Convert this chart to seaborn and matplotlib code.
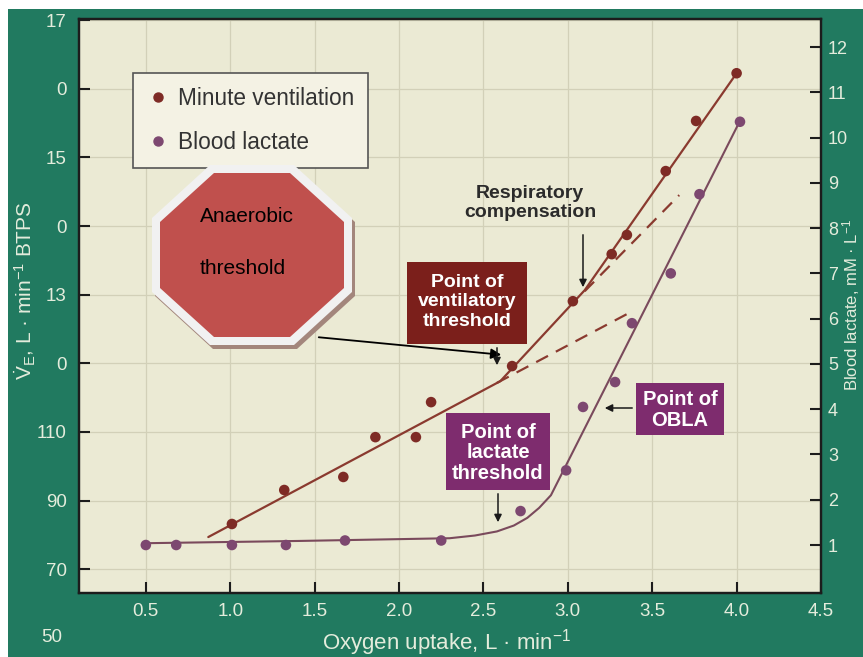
import matplotlib
matplotlib.use("Agg")
import matplotlib.pyplot as plt
from matplotlib.lines import Line2D
from matplotlib.patches import Polygon, Rectangle
import seaborn as sns

# ---- data -------------------------------------------------------------
# Minute ventilation (L/min) against oxygen uptake (L/min)
vo2_ve = [1.01, 1.32, 1.67, 1.86, 2.10, 2.19, 2.67, 3.03, 3.26, 3.35, 3.58, 3.76, 4.00]
ve = [83.2, 93.1, 96.9, 108.5, 108.5, 118.7, 129.2, 148.1, 161.8, 167.4, 186.0, 200.6, 214.5]

# Blood lactate (mM) against oxygen uptake (L/min)
vo2_la = [0.50, 0.68, 1.01, 1.33, 1.68, 2.25, 2.72, 2.99, 3.09, 3.28, 3.38, 3.61, 3.78, 4.02]
lactate = [1.0, 1.0, 1.0, 1.0, 1.1, 1.1, 1.75, 2.65, 4.05, 4.6, 5.9, 7.0, 8.75, 10.35]

# Fitted trend lines
ve_fit_x = [0.87, 2.60, 3.10, 4.00]
ve_fit = [79.4, 124.8, 151.3, 214.5]
ve_ext1_x = [2.58, 3.36]          # extrapolation of the first slope
ve_ext1 = [124.3, 144.6]
ve_ext2_x = [3.10, 3.66]          # extrapolation of the second slope
ve_ext2 = [151.0, 179.0]

la_fit_x = [0.50, 1.41, 2.30, 2.45, 2.58, 2.68, 2.76, 2.83, 2.90, 4.02]
la_fit = [1.04, 1.09, 1.15, 1.21, 1.30, 1.43, 1.60, 1.82, 2.10, 10.37]

# Axis ticks
x_ticks = [0.5, 1.0, 1.5, 2.0, 2.5, 3.0, 3.5, 4.0, 4.5]
x_labels = ["0.5", "1.0", "1.5", "2.0", "2.5", "3.0", "3.5", "4.0", "4.5"]
ve_ticks = [70, 90, 110, 130, 150, 170, 190, 210, 230]
ve_labels = ["70", "90", "110", "0", "13", "0", "15", "0", "17"]
la_ticks = list(range(1, 13))

# ---- style ------------------------------------------------------------
sns.set_style("ticks")
plt.rcParams["font.family"] = ["Liberation Sans", "DejaVu Sans"]
plt.rcParams["mathtext.fontset"] = "custom"
plt.rcParams["mathtext.rm"] = "Liberation Sans"
plt.rcParams["mathtext.it"] = "Liberation Sans"

TEAL = "#217a60"
PAPER = "#ebead4"
TXT_LIGHT = "#e4ecdc"
VE_COL = "#7e2b25"
LA_COL = "#7d4870"
VE_LINE = "#8a3a2f"
LA_LINE = "#7a4a5c"

W, H = 863, 657
fig = plt.figure(figsize=(W / 100, H / 100), dpi=100, facecolor=TEAL)

# white strip along the top and left
fig.patches.append(Rectangle((0, 1 - 9 / H), 1, 9 / H, transform=fig.transFigure,
                             facecolor="white", edgecolor="none", zorder=0))
fig.patches.append(Rectangle((0, 0), 8 / W, 1, transform=fig.transFigure,
                             facecolor="white", edgecolor="none", zorder=0))

ax = fig.add_axes([79 / W, 1 - 593 / H, (821 - 79) / W, (593 - 19) / H])
ax.set_facecolor(PAPER)
ax2 = ax.twinx()

# ---- marks ------------------------------------------------------------
sns.lineplot(x=ve_fit_x, y=ve_fit, ax=ax, color=VE_LINE, lw=1.6, sort=False, estimator=None)
sns.lineplot(x=ve_ext1_x, y=ve_ext1, ax=ax, color=VE_LINE, lw=1.6, sort=False,
             estimator=None, linestyle=(0, (6, 4)))
sns.lineplot(x=ve_ext2_x, y=ve_ext2, ax=ax, color=VE_LINE, lw=1.6, sort=False,
             estimator=None, linestyle=(0, (6, 4)))
sns.scatterplot(x=vo2_ve, y=ve, ax=ax, color=VE_COL, s=58, edgecolor="none", zorder=4)

sns.lineplot(x=la_fit_x, y=la_fit, ax=ax2, color=LA_LINE, lw=1.5, sort=False, estimator=None)
sns.scatterplot(x=vo2_la, y=lactate, ax=ax2, color=LA_COL, s=58, edgecolor="none", zorder=4)

# ---- axes -------------------------------------------------------------
ax.set_xlim(0.104, 4.5)
ax.set_ylim(63.1, 230.3)
ax2.set_ylim(-0.06, 12.62)

ax.set_xticks(x_ticks, x_labels)
ax.set_yticks(ve_ticks, ve_labels)
ax2.set_yticks(la_ticks, [str(t) for t in la_ticks])

ax.grid(True, color="#d2d0b8", lw=0.9)
ax2.grid(False)

for a in (ax, ax2):
    for sp in a.spines.values():
        sp.set_color("#1c1c1c")
        sp.set_linewidth(1.6)
    a.set_xlabel("")
    a.set_ylabel("")
    if a.get_legend() is not None:
        a.get_legend().remove()

ax.tick_params(axis="x", direction="in", length=8, width=1.5, color="#1c1c1c",
               labelcolor=TXT_LIGHT, labelsize=13.5, pad=7)
ax.tick_params(axis="y", direction="in", length=8, width=1.5, color="#1c1c1c",
               labelcolor=TXT_LIGHT, labelsize=13.5, pad=9)
ax2.tick_params(axis="y", direction="in", length=8, width=1.5, color="#1c1c1c",
                labelcolor=TXT_LIGHT, labelsize=13, pad=5)

# lowest left label sits below the frame
ax.text(-17 / 742, 50, "50", transform=ax.get_yaxis_transform(), ha="right",
        va="center", color=TXT_LIGHT, fontsize=13.5, clip_on=False)

ax.set_xlabel("Oxygen uptake, L · min$^{-1}$", color=TXT_LIGHT, fontsize=16, va="center")
ax.xaxis.set_label_coords((447 - 79) / 742, -(643 - 593) / 574)

# ---- legend -----------------------------------------------------------
handles = [Line2D([], [], ls="none", marker="o", ms=6.5, color=VE_COL),
           Line2D([], [], ls="none", marker="o", ms=6.5, color=LA_COL)]
leg = ax2.legend(handles, ["Minute ventilation", "Blood lactate"],
                 loc="upper left", bbox_to_anchor=(133 / W, 1 - 73 / H),
                 bbox_transform=fig.transFigure, borderaxespad=0, frameon=True,
                 fancybox=False, fontsize=16.3, labelspacing=0.95, borderpad=0.6,
                 handlelength=1.0, handletextpad=0.4, labelcolor="#333333")
leg.get_frame().set_facecolor("#f4f2e4")
leg.get_frame().set_edgecolor("#555555")
leg.get_frame().set_linewidth(1.2)
leg.get_frame().set_alpha(1)

# ---- overlay for labels and callouts (pixel coordinates) ---------------
ov = fig.add_axes([0, 0, 1, 1], zorder=10)
ov.set_xlim(0, W)
ov.set_ylim(H, 0)
ov.axis("off")

ov.text(25, 291, r"$\dot{\mathrm{V}}_{\mathrm{E}}$, L · min$^{-1}$ BTPS", rotation=90,
        ha="center", va="center", color=TXT_LIGHT, fontsize=15)
ov.text(862, 305, "Blood lactate, mM · L$^{-1}$", rotation=90, ha="right",
        va="center", color=TXT_LIGHT, fontsize=12)


def octagon(x0, x1, y0, y1, cx, cy):
    return [(x0 + cx, y0), (x1 - cx, y0), (x1, y0 + cy), (x1, y1 - cy),
            (x1 - cx, y1), (x0 + cx, y1), (x0, y1 - cy), (x0, y0 + cy)]


ov.add_patch(Polygon(octagon(155, 355, 169, 349, 58, 53), closed=True,
                     facecolor="#a3867c", edgecolor="none"))
ov.add_patch(Polygon(octagon(152, 352, 165, 345, 58, 53), closed=True,
                     facecolor="#f1f1f1", edgecolor="none"))
ov.add_patch(Polygon(octagon(160, 344, 173, 337, 54, 49), closed=True,
                     facecolor="#c0504d", edgecolor="none"))
ov.text(200, 216, "Anaerobic", ha="left", va="center", fontsize=15, color="black")
ov.text(200, 268, "threshold", ha="left", va="center", fontsize=15, color="black")
ov.annotate("", xy=(504, 355), xytext=(316, 337),
            arrowprops=dict(arrowstyle="-|>", color="black", lw=1.3, mutation_scale=15))

# callout boxes
ov.add_patch(Rectangle((407, 262), 120, 82, facecolor="#7b1f1b", edgecolor="none"))
ov.text(467, 302, "Point of\nventilatory\nthreshold", ha="center", va="center",
        color="white", fontsize=14, fontweight="bold", linespacing=1.22)

ov.add_patch(Rectangle((446, 413), 104, 77, facecolor="#7e2c6e", edgecolor="none"))
ov.text(498, 453, "Point of\nlactate\nthreshold", ha="center", va="center",
        color="white", fontsize=14.5, fontweight="bold", linespacing=1.1)

ov.add_patch(Rectangle((636, 383), 88, 52, facecolor="#7e2c6e", edgecolor="none"))
ov.text(680, 410, "Point of\nOBLA", ha="center", va="center",
        color="white", fontsize=14.5, fontweight="bold", linespacing=1.15)

ov.text(530, 203, "Respiratory\ncompensation", ha="center", va="center",
        color="#2b2b2b", fontsize=14, fontweight="bold", linespacing=1.15)

arrow_kw = dict(arrowstyle="-|>", color="#1a1a1a", lw=1.1, mutation_scale=11)
ov.annotate("", xy=(583, 290), xytext=(583, 232), arrowprops=arrow_kw)
ov.annotate("", xy=(497, 368), xytext=(497, 345), arrowprops=arrow_kw)
ov.annotate("", xy=(498, 525), xytext=(498, 491), arrowprops=arrow_kw)
ov.annotate("", xy=(602, 408), xytext=(635, 408), arrowprops=arrow_kw)

fig.savefig("out.png", dpi=100, facecolor=TEAL)
